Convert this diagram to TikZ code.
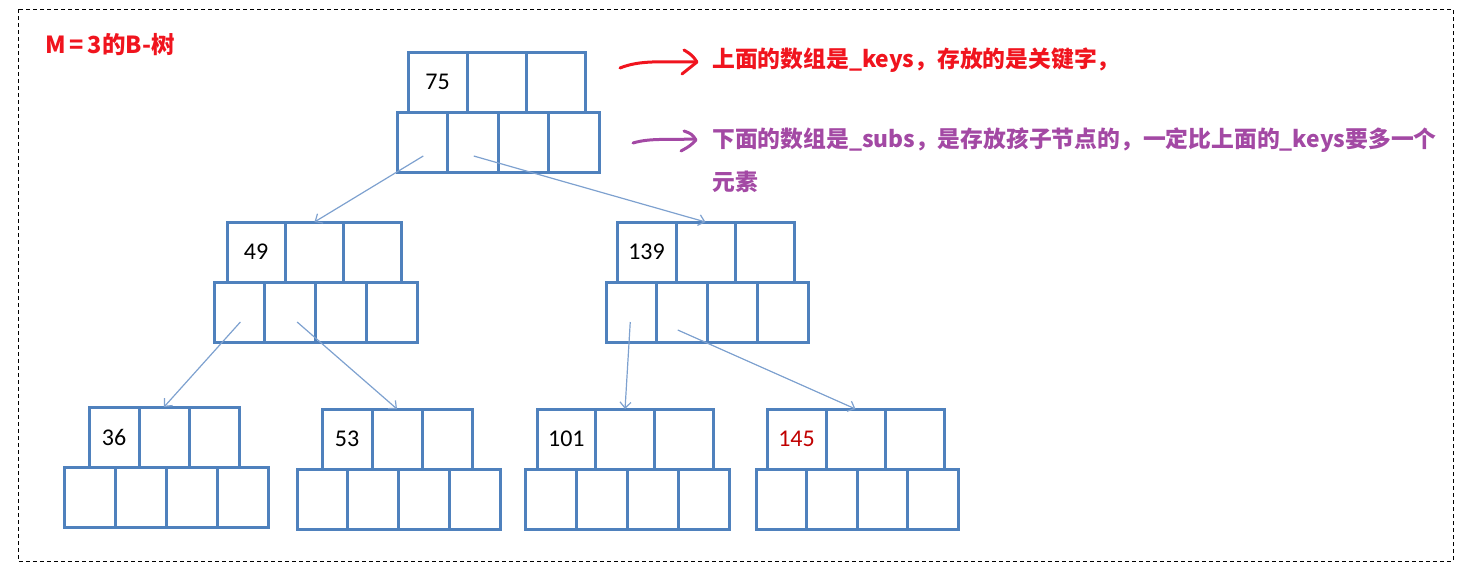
\documentclass[tikz,border=0pt]{standalone}
\usepackage{fontspec}
\setmainfont{Carlito}
\newfontfamily\cjk{Noto Sans CJK SC}
\usetikzlibrary{arrows.meta,calc}
\definecolor{boxblue}{RGB}{79,129,189}
\definecolor{linkblue}{RGB}{126,161,207}
\definecolor{annred}{RGB}{240,20,30}
\definecolor{annpurple}{RGB}{163,73,164}
\definecolor{numred}{RGB}{192,0,0}
\tikzset{
  cell/.style={draw=boxblue, line width=3pt, rectangle, inner sep=0pt, outer sep=0pt,
    anchor=north west, font=\fontsize{24}{28}\selectfont, text=black},
  link/.style={draw=linkblue, line width=1.2pt, -{Straight Barb[length=6pt,width=11pt]}},
  hand/.style={line width=3pt, line cap=round, line join=round},
  ann/.style={anchor=west, inner sep=0pt, font=\cjk\bfseries\fontsize{22.8}{27}\selectfont},
}
% name, keys x, keys y, key cell width, subs x, subs cell width, label
\newcommand\btnode[7]{%
  \node[cell, minimum width=#4, minimum height=60] (#1-k1) at (#2,#3) {#7};
  \node[cell, minimum width=#4, minimum height=60] (#1-k2) at ({#2+#4},#3) {};
  \node[cell, minimum width=#4, minimum height=60] (#1-k3) at ({#2+2*#4},#3) {};
  \node[cell, minimum width=#6, minimum height=60] (#1-s1) at (#5,{#3+60}) {};
  \node[cell, minimum width=#6, minimum height=60] (#1-s2) at ({#5+#6},{#3+60}) {};
  \node[cell, minimum width=#6, minimum height=60] (#1-s3) at ({#5+2*#6},{#3+60}) {};
  \node[cell, minimum width=#6, minimum height=60] (#1-s4) at ({#5+3*#6},{#3+60}) {};
}
\begin{document}
\begin{tikzpicture}[x=1pt,y=-1pt]
\path[use as bounding box] (0,0) rectangle (1460,579);
\draw[black, line width=1pt, dash pattern=on 4pt off 3pt] (18,9) rectangle (1453,561);

\node[ann, text=annred, font=\cjk\bfseries\fontsize{23.5}{27}\selectfont] (title) at (45,45) {M\,=\,3的B-树};

% tree nodes
\btnode{r}{408}{52}{59.3}{397}{50.5}{75}
\btnode{l}{227}{222}{58.3}{214}{50.75}{49}
\btnode{g}{617}{222}{59}{606}{50.5}{139}
\btnode{a}{89}{407}{50}{64}{51}{36}
\btnode{b}{322}{409}{50}{297}{50.75}{53}
\btnode{c}{537}{409}{58.7}{525}{51}{101}
\btnode{d}{767}{409}{59}{756}{50.5}{\textcolor{numred}{145}}

% links
\draw[link] ($(r-s1.center)+(1,14)$) -- (l-k2.north);
\draw[link] ($(r-s2.center)+(1,14)$) -- (g-k2.north);
\draw[link] ($(l-s1.center)+(1,10)$) -- (a-k2.north);
\draw[link] ($(l-s2.center)+(7,10)$) -- (b-k2.north);
\draw[link] ($(g-s1.center)+(-1,10)$) -- (c-k2.north);
\draw[link] ($(g-s2.center)+(-4,18)$) -- (d-k2.north);

% annotations
\node[ann, text=annred] (t1) at (712,60) {上面的数组是\_keys，存放的是关键字，};
\node[ann, text=annpurple] (t2) at (712,140) {下面的数组是\_subs，是存放孩子节点的，一定比上面的\_keys要多一个};
\node[ann, text=annpurple] (t3) at (712,182) {元素};

\coordinate (ra) at (620,68);
\coordinate (rb) at (696,62);
\draw[hand, annred] (ra) .. controls (640,60) and (660,62) .. (rb);
\draw[hand, annred] (684,50) .. controls (692,55) .. (697,62) .. controls (690,68) .. (682,74);

\coordinate (pa) at (633,143);
\coordinate (pb) at (694,139);
\draw[hand, annpurple] (pa) .. controls (650,138) and (665,140) .. (pb);
\draw[hand, annpurple] (684,131) .. controls (692,134) .. (696,140) .. controls (690,146) .. (681,151);
\end{tikzpicture}
\end{document}
